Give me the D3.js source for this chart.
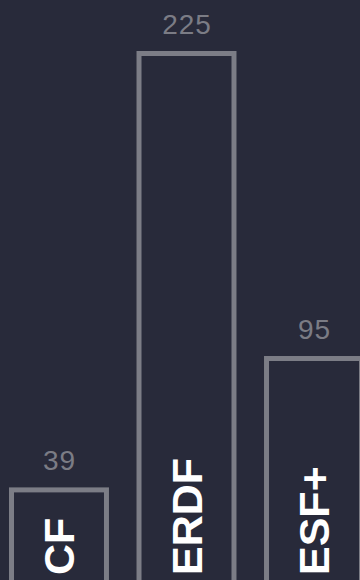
<html>
    <head>
        <title>Funds</title>
        <script src="https://d3js.org/d3.v7.min.js" charset="utf-8"></script>
        <style>
            body {
                margin: 0;
                background: #282a3a;
                font-family: "Liberation Sans", Arial, Helvetica, sans-serif;
            }
        </style>
    </head>
    <body>
        <script>
            // chart data
            var funds = ["CF", "ERDF", "ESF+"];
            var amounts = [39, 225, 95];

            var width = 360;
            var height = 580;
            var stroke = 5;

            var svg = d3.select("body")
            .append("svg")
            .attr("width", width)
            .attr("height", height);

            svg.append("rect")
            .attr("width", width)
            .attr("height", height)
            .attr("fill", "#282a3a");

            var x = d3.scaleBand()
            .domain(funds)
            .range([9, 364])
            .paddingInner(0.216);

            // baseline sits just below the bottom edge
            var y = d3.scaleLinear()
            .domain([0, d3.max(amounts)])
            .range([581.4, 53.5]);

            var rows = funds.map(function(f, i) { return {name: f, value: amounts[i]}; });

            var g = svg.append("g");

            g.selectAll("rect.bar")
            .data(rows)
            .enter()
            .append("rect")
            .attr("class", "bar")
            .attr("x", function(d) { return x(d.name) + stroke / 2; })
            .attr("y", function(d) { return y(d.value); })
            .attr("width", x.bandwidth() - stroke)
            .attr("height", function(d) { return y(0) - y(d.value) + 10; })
            .attr("fill", "#282a3a")
            .attr("stroke", "#7c7d86")
            .attr("stroke-width", stroke);

            // value on top
            g.selectAll("text.value")
            .data(rows)
            .enter()
            .append("text")
            .attr("class", "value")
            .attr("x", function(d) { return x(d.name) + x.bandwidth() / 2 + 0.5; })
            .attr("y", function(d) { return y(d.value) - 19.5; })
            .attr("text-anchor", "middle")
            .attr("fill", "#7b7c85")
            .attr("font-size", "28px")
            .attr("letter-spacing", "1px")
            .text(function(d) { return d.value; });

            // fund name, rotated, inside bar
            g.selectAll("text.name")
            .data(rows)
            .enter()
            .append("text")
            .attr("class", "name")
            .attr("transform", function(d) {
                var cx = x(d.name) + x.bandwidth() / 2 + 15;
                return "translate(" + cx + ",575) rotate(-90)";
            })
            .attr("fill", "#ffffff")
            .attr("font-weight", "bold")
            .attr("font-size", "43px")
            .text(function(d) { return d.name; });
        </script>
    </body>
</html>
